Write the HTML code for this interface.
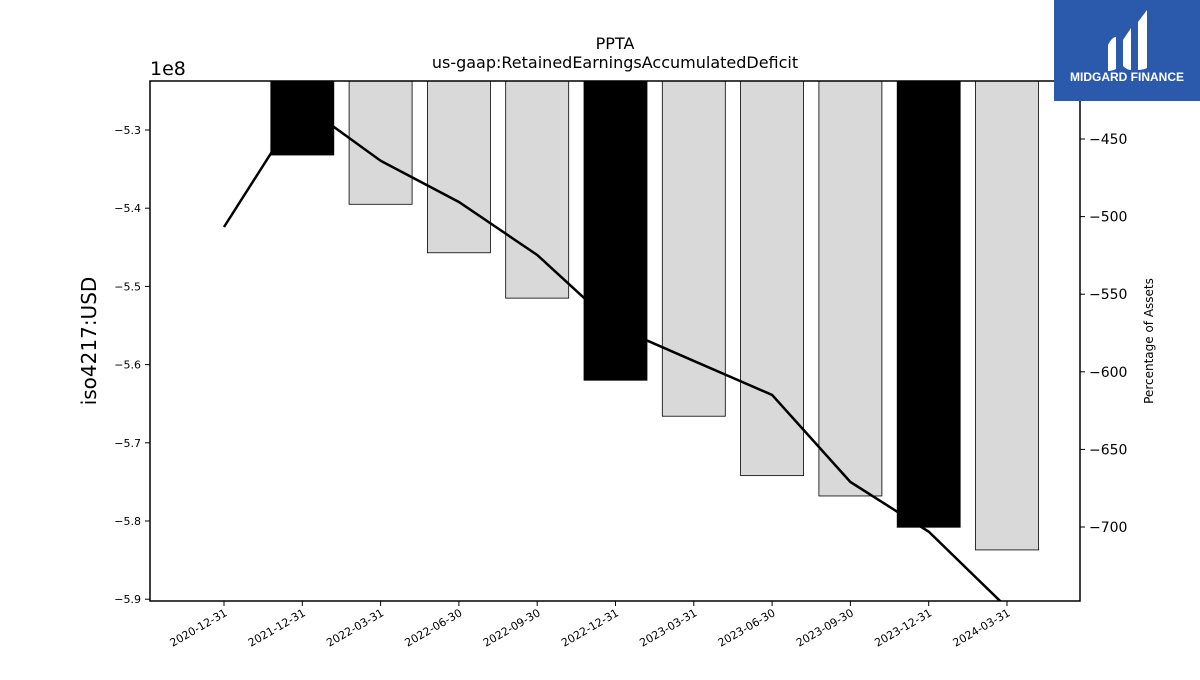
<!DOCTYPE html>
<html><head><meta charset="utf-8"><style>
body{margin:0;background:#fff;}
svg text{font-family:"DejaVu Sans","Liberation Sans",sans-serif;}
</style></head><body>
<svg id="chart" width="1200" height="675" xmlns="http://www.w3.org/2000/svg">
<rect width="1200" height="675" fill="#fff"/>
<text x="615" y="49" font-size="16" text-anchor="middle">PPTA</text>
<text x="615" y="68" font-size="16" text-anchor="middle">us-gaap:RetainedEarningsAccumulatedDeficit</text>
<text x="150" y="75" font-size="19">1e8</text>
<text transform="translate(96,341) rotate(-90)" font-size="20" text-anchor="middle">iso4217:USD</text>
<text transform="translate(1153,341) rotate(-90)" font-size="12" text-anchor="middle">Percentage of Assets</text>
<g id="bars"></g>
<g id="axes"></g>
<rect x="150" y="81" width="930" height="520" fill="none" stroke="#000" stroke-width="1.5"/>
<g>
<rect x="1054" y="0" width="146" height="101" fill="#2b5aad"/>
<path d="M1108,45 q4,-8 8,-8 v32 q-4,2 -8,2z M1123,40 l8,-12 v42 q-4,0 -8,-4z M1138,22 l9,-12 v58 q-4,2 -9,2z" fill="#fff"/>
<text x="1127" y="81" font-size="12" font-weight="bold" fill="#fff" text-anchor="middle" style="font-family:'Liberation Sans',sans-serif">MIDGARD FINANCE</text>
</g>
</svg>
<script>
const categories=["2020-12-31","2021-12-31","2022-03-31","2022-06-30","2022-09-30","2022-12-31","2023-03-31","2023-06-30","2023-09-30","2023-12-31","2024-03-31"];
const barValues=[null,-5.332,-5.395,-5.457,-5.515,-5.620,-5.666,-5.742,-5.768,-5.808,-5.837];
const pctValues=[-506.7,-427.5,-464,-490.6,-524.7,-571,-593,-614.9,-671,-703,-752];
const annual=[true,true,false,false,false,true,false,false,false,true,false];
const yTicks=[-5.3,-5.4,-5.5,-5.6,-5.7,-5.8,-5.9];
const y2Ticks=[-450,-500,-550,-600,-650,-700];
const NS="http://www.w3.org/2000/svg";
const X0=150,X1=1080,T=81,B=601;
const step=78.3, first=224;
function xs(i){return first+i*step;}
function ys(v){return 130+(-5.3-v)*782;}
function y2(v){return 139+(-450-v)*1.552;}
function mk(tag,attrs,parent){const e=document.createElementNS(NS,tag);for(const k in attrs)e.setAttribute(k,attrs[k]);parent.appendChild(e);return e;}
const bars=document.getElementById('bars'),axes=document.getElementById('axes');
const bw=63;
function drawBars(black){
 barValues.forEach((v,i)=>{ if(v===null||annual[i]!==black)return;
  const r=mk('rect',{x:xs(i)-bw/2,y:T,width:bw,height:ys(v)-T,fill:black?'#000':'#d9d9d9',stroke:'#000','stroke-width':0.8},bars);
  
  
 });
}
drawBars(false);
const pts=pctValues.map((v,i)=>xs(i)+','+y2(v)).join(' ');
const cp=mk('clipPath',{id:'clip'},bars);mk('rect',{x:X0,y:T,width:X1-X0,height:B-T},cp);
const line=mk('polyline',{points:pts,fill:'none',stroke:'#000','stroke-width':2.5,'clip-path':'url(#clip)'},bars);


drawBars(true);
yTicks.forEach(t=>{const y=ys(t);mk('line',{x1:X0-5,x2:X0,y1:y,y2:y,stroke:'#000'},axes);
 const tx=mk('text',{x:X0-9,y:y+4,'font-size':11,'text-anchor':'end'},axes);tx.textContent='\u2212'+Math.abs(t).toFixed(1);
 });
y2Ticks.forEach(t=>{const y=y2(t);mk('line',{x1:X1,x2:X1+5,y1:y,y2:y,stroke:'#000'},axes);
 const tx=mk('text',{x:X1+9,y:y+5,'font-size':14},axes);tx.textContent='\u2212'+Math.abs(t);
 });
categories.forEach((c,i)=>{const x=xs(i);mk('line',{x1:x,x2:x,y1:B,y2:B+5,stroke:'#000'},axes);
 const tx=mk('text',{x:x+4,y:B+14,'font-size':11,'text-anchor':'end',transform:`rotate(-30 ${x+4} ${B+14})`},axes);tx.textContent=c;
 });
</script>
</body></html>
